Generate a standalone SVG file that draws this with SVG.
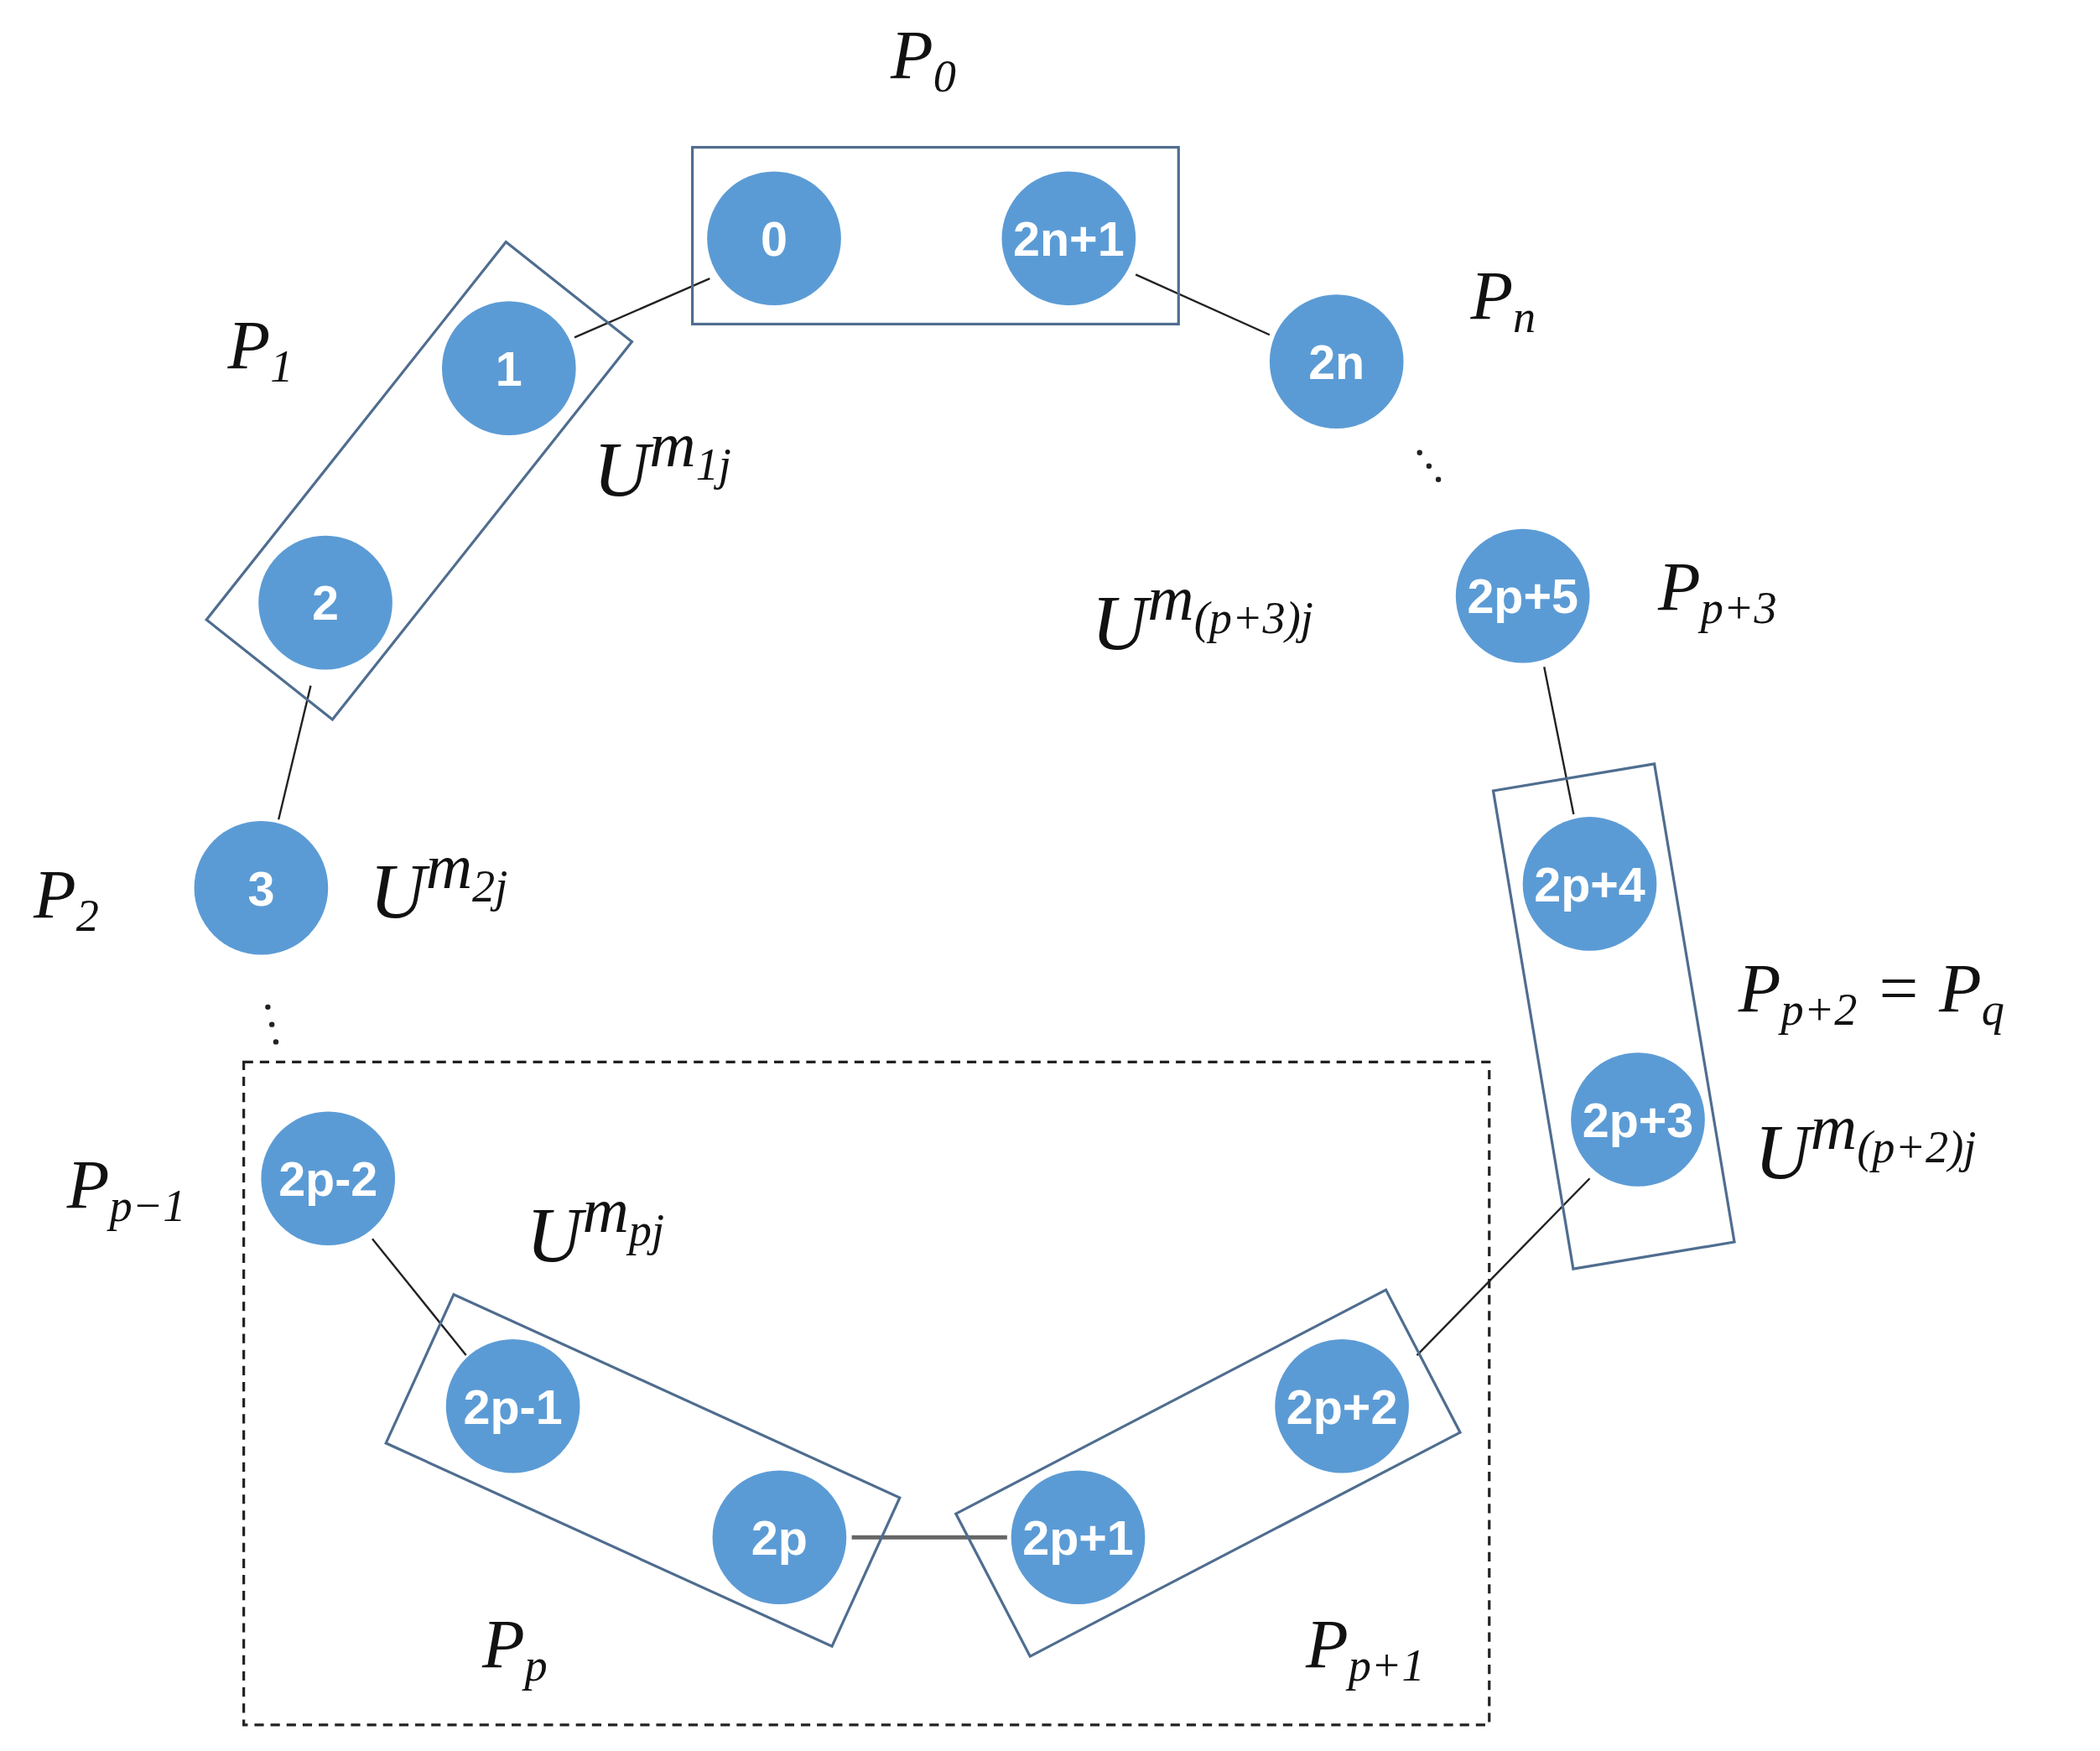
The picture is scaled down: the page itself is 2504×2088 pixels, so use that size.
<svg xmlns="http://www.w3.org/2000/svg" width="2504" height="2088" viewBox="0 0 2504 2088">
<style>
.n{fill:#5b9bd5}
.t{fill:#fff;font-family:"Liberation Sans",sans-serif;font-weight:bold;font-size:36px;text-anchor:middle}
.b{fill:none;stroke:#4f6d8f;stroke-width:2}
.l{stroke:#222;stroke-width:1.5}
.m{font-family:"Liberation Serif",serif;font-style:italic;font-size:52px;fill:#111}
.s{font-size:34px}
.u{font-size:58px}
</style>
<rect width="2504" height="2088" fill="#fff"/>
<g transform="scale(1.5969)">
<g id="connectors">
<line class="l" x1="429" y1="252" x2="530" y2="208"/>
<line class="l" x1="848" y1="205" x2="948" y2="250"/>
<line class="l" x1="232" y1="512" x2="208" y2="612"/>
<line class="l" x1="1153" y1="498" x2="1175" y2="608"/>
<line class="l" x1="1187" y1="880" x2="1058" y2="1012"/>
<line class="l" x1="278" y1="925" x2="348" y2="1012"/>
<line x1="636" y1="1148" x2="752" y2="1148" stroke="#666" stroke-width="3"/>
<g fill="#222"><circle cx="1060" cy="338" r="2"/><circle cx="1067" cy="348" r="2"/><circle cx="1074" cy="358" r="2"/>
<circle cx="200" cy="752" r="2"/><circle cx="203" cy="765" r="2"/><circle cx="206" cy="778" r="2"/></g>
</g>
<g id="groups">
<rect class="b" x="517" y="110" width="363" height="132"/>
<rect class="b" x="-180" y="-60" width="360" height="120" transform="translate(313,359) rotate(-51.6)"/>
<rect class="b" x="-183" y="-61" width="366" height="122" transform="translate(480,1098) rotate(24.5)"/>
<rect class="b" x="-181" y="-60" width="362" height="120" transform="translate(902,1100) rotate(-27.5)"/>
<rect class="b" x="-181" y="-61" width="362" height="122" transform="translate(1205,759) rotate(80.5)"/>
<rect x="182" y="793" width="930" height="495" fill="none" stroke="#222" stroke-width="2" stroke-dasharray="7,5"/>
</g>
<g id="n0"><circle class="n" cx="578" cy="178" r="50"/><text class="t" x="578" y="191">0</text></g>
<g id="n2n1"><circle class="n" cx="798" cy="178" r="50"/><text class="t" x="798" y="191">2n+1</text></g>
<g id="n2n"><circle class="n" cx="998" cy="270" r="50"/><text class="t" x="998" y="283">2n</text></g>
<g id="n1"><circle class="n" cx="380" cy="275" r="50"/><text class="t" x="380" y="288">1</text></g>
<g id="n2"><circle class="n" cx="243" cy="450" r="50"/><text class="t" x="243" y="463">2</text></g>
<g id="n3"><circle class="n" cx="195" cy="663" r="50"/><text class="t" x="195" y="676">3</text></g>
<g id="n2pm2"><circle class="n" cx="245" cy="880" r="50"/><text class="t" x="245" y="893">2p-2</text></g>
<g id="n2pm1"><circle class="n" cx="383" cy="1050" r="50"/><text class="t" x="383" y="1063">2p-1</text></g>
<g id="n2p"><circle class="n" cx="582" cy="1148" r="50"/><text class="t" x="582" y="1161">2p</text></g>
<g id="n2p1"><circle class="n" cx="805" cy="1148" r="50"/><text class="t" x="805" y="1161">2p+1</text></g>
<g id="n2p2"><circle class="n" cx="1002" cy="1050" r="50"/><text class="t" x="1002" y="1063">2p+2</text></g>
<g id="n2p3"><circle class="n" cx="1223" cy="836" r="50"/><text class="t" x="1223" y="849">2p+3</text></g>
<g id="n2p4"><circle class="n" cx="1187" cy="660" r="50"/><text class="t" x="1187" y="673">2p+4</text></g>
<g id="n2p5"><circle class="n" cx="1137" cy="445" r="50"/><text class="t" x="1137" y="458">2p+5</text></g>
<g id="labels" class="m">
<text x="665" y="58">P<tspan class="s" dy="10">0</tspan></text>
<text x="170" y="275">P<tspan class="s" dy="10">1</tspan></text>
<text x="1098" y="238">P<tspan class="s" dy="10">n</tspan></text>
<text x="443" y="370" class="u">U<tspan dy="-22" font-size="48">m</tspan><tspan class="s" dy="10">1j</tspan></text>
<text x="815" y="485" class="u">U<tspan dy="-22" font-size="48">m</tspan><tspan class="s" dy="10">(p+3)j</tspan></text>
<text x="1238" y="455">P<tspan class="s" dy="10">p+3</tspan></text>
<text x="25" y="685">P<tspan class="s" dy="10">2</tspan></text>
<text x="276" y="685" class="u">U<tspan dy="-22" font-size="48">m</tspan><tspan class="s" dy="10">2j</tspan></text>
<text x="1298" y="755">P<tspan class="s" dy="10">p+2</tspan><tspan dy="-10"> = P</tspan><tspan class="s" dy="10">q</tspan></text>
<text x="1310" y="880" class="u">U<tspan dy="-22" font-size="48">m</tspan><tspan class="s" dy="10">(p+2)j</tspan></text>
<text x="50" y="902">P<tspan class="s" dy="10">p−1</tspan></text>
<text x="393" y="942" class="u">U<tspan dy="-22" font-size="48">m</tspan><tspan class="s" dy="10">pj</tspan></text>
<text x="360" y="1245">P<tspan class="s" dy="10">p</tspan></text>
<text x="975" y="1245">P<tspan class="s" dy="10">p+1</tspan></text>
</g>
</g>
</svg>
